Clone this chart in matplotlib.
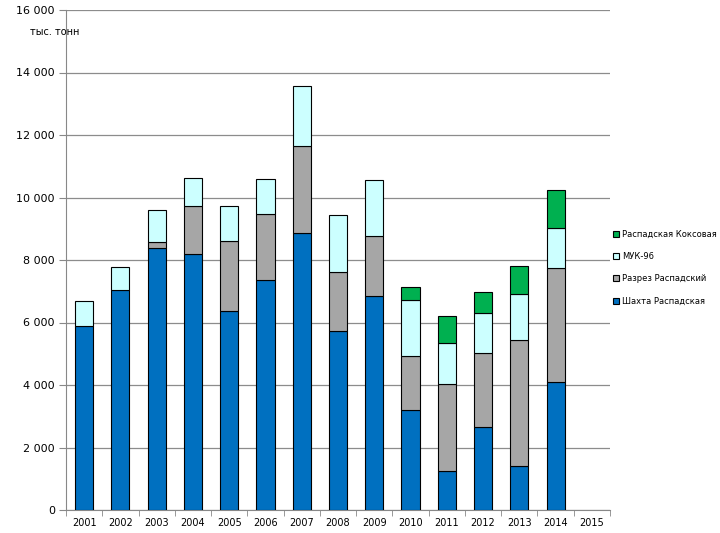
# stacked bars: coal output by Raspadskaya units, 2001-2015
import matplotlib.pyplot as plt
import numpy as np
from matplotlib.ticker import FuncFormatter, FixedLocator

# data (thousand tonnes)
years = ['2001', '2002', '2003', '2004', '2005', '2006', '2007', '2008',
         '2009', '2010', '2011', '2012', '2013', '2014', '2015']
shakhta = [5890, 7040, 8380, 8180, 6380, 7360, 8850, 5730, 6840, 3200, 1250, 2660, 1410, 4090, 0]
razrez = [0, 0, 210, 1540, 2240, 2120, 2810, 1880, 1920, 1720, 2770, 2350, 4020, 3670, 0]
muk96 = [810, 725, 1000, 890, 1100, 1120, 1900, 1820, 1790, 1810, 1310, 1300, 1480, 1250, 0]
koks = [0, 0, 0, 0, 0, 0, 0, 0, 0, 420, 890, 680, 890, 1220, 0]

names = ['Шахта Распадская', 'Разрез Распадский', 'МУК-96', 'Распадская Коксовая']
colors = ['#0070C0', '#A6A6A6', '#CCFFFF', '#00B050']

fig = plt.figure(figsize=(7.2, 5.33), dpi=100)
ax = fig.add_axes([66/720, 23/533, 544/720, 500/533])

x = np.arange(len(years))
bottom = np.zeros(len(years))
for vals, name, col in zip([shakhta, razrez, muk96, koks], names, colors):
    vals = np.array(vals, dtype=float)
    # skip empty segments so they leave no flat outline
    keep = vals > 0
    ax.bar(x[keep], vals[keep], width=0.5, bottom=bottom[keep], color=col,
           edgecolor='black', linewidth=0.8, label=name, zorder=3)
    bottom += vals

ax.set_xlim(-0.5, len(years) - 0.5)
ax.set_ylim(0, 16000)
ax.set_yticks(range(0, 16001, 2000))
ax.yaxis.set_major_formatter(FuncFormatter(lambda v, p: f'{int(v):,}'.replace(',', ' ')))
ax.set_xticks(x)
ax.set_xticklabels(years)
ax.xaxis.set_minor_locator(FixedLocator(np.arange(-0.5, len(years), 1.0)))
ax.tick_params(axis='x', which='major', length=0, labelsize=7, pad=6)
ax.tick_params(axis='x', which='minor', length=4, color='#888888')
ax.tick_params(axis='y', length=5, color='#888888', labelsize=8, pad=3)

ax.grid(axis='y', color='#8c8c8c', linewidth=0.9, zorder=0)
for s in ['top', 'right']:
    ax.spines[s].set_visible(False)
ax.spines['left'].set_color('#888888')
ax.spines['bottom'].set_color('#888888')

fig.text(30/720, 1 - 32/533, 'тыс. тонн', fontsize=7, va='center')

handles, labels = ax.get_legend_handles_labels()
leg = ax.legend(handles[::-1], labels[::-1], loc='center left', bbox_to_anchor=(1.0, 0.485),
                frameon=False, fontsize=6, handlelength=0.7, handleheight=0.7,
                handletextpad=0.3, labelspacing=1.6, borderaxespad=0.0)

plt.savefig('out.png', dpi=100)
